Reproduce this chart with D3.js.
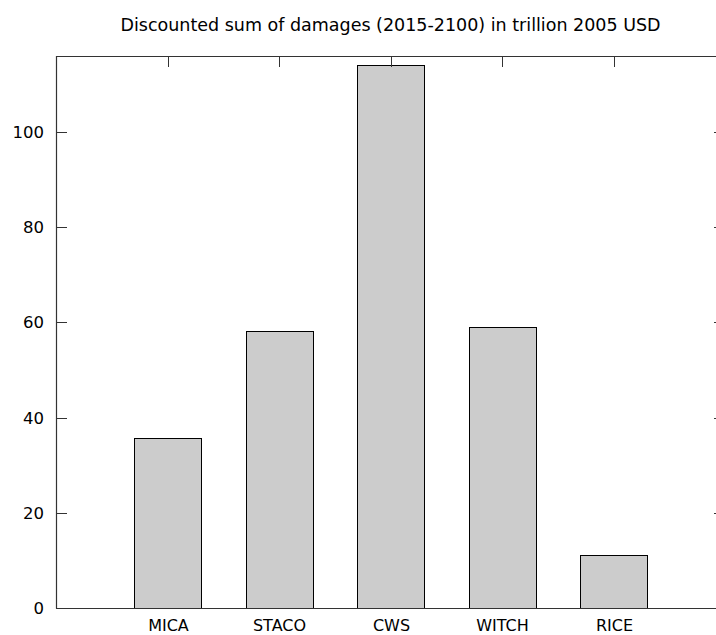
<!DOCTYPE html>
<html><head><meta charset="utf-8">
<script src="https://cdnjs.cloudflare.com/ajax/libs/d3/7.8.5/d3.min.js"></script>
<style>body{margin:0;background:#fff}svg{display:block}</style>
</head><body>
<script>
const categories = ["MICA","STACO","CWS","WITCH","RICE"];
const values = [35.7, 58.2, 114.1, 59.0, 11.1];
const yTicks = [0,20,40,60,80,100];
const title = "Discounted sum of damages (2015-2100) in trillion 2005 USD";

const W = 716, H = 635;
const L = 56, R = 725, T = 56, B = 608;
const svg = d3.select("body").append("svg").attr("width", W).attr("height", H)
  .style("font-family","'DejaVu Sans', sans-serif");

const x = d3.scaleLinear().domain([-1, categories.length]).range([L, R]);
const y = d3.scaleLinear().domain([0, 116]).range([B, T]);
const bw = x(0.6) - x(0);

svg.append("g").selectAll("rect").data(values).join("rect")
  .attr("x", (d,i) => Math.round(x(i) - bw/2) + 0.5)
  .attr("y", d => Math.round(y(d)) + 0.5)
  .attr("width", Math.round(bw))
  .attr("height", d => Math.round(B - y(d)))
  .attr("fill", "#cccccc").attr("stroke", "#000").attr("stroke-width", 1);

// border
svg.append("path").attr("d", `M${L+0.5},${B+0.5}V${T+0.5}H${R}M${L},${B+0.5}H${R}`)
  .attr("fill","none").attr("stroke","#333").attr("stroke-width",1.2);

// y ticks left and right
const gy = svg.append("g");
yTicks.forEach(t => {
  const yy = Math.round(y(t)) + 0.5;
  gy.append("line").attr("x1", L).attr("x2", L+11).attr("y1", yy).attr("y2", yy).attr("stroke","#333");
  gy.append("line").attr("x1", R).attr("x2", R-11).attr("y1", yy).attr("y2", yy).attr("stroke","#333");
  gy.append("text").attr("x", L-12).attr("y", yy).attr("dy","0.36em").attr("text-anchor","end")
    .attr("font-size", 16.5).attr("fill","#000").text(t);
});

// x ticks top, labels bottom
const gx = svg.append("g");
categories.forEach((c,i) => {
  const xx = Math.round(x(i)) + 0.5;
  gx.append("line").attr("x1", xx).attr("x2", xx).attr("y1", T).attr("y2", T+11).attr("stroke","#333");
  gx.append("text").attr("x", xx).attr("y", 631).attr("text-anchor","middle")
    .attr("font-size", 16).attr("fill","#000").text(c);
});

svg.append("text").attr("x", (L+R)/2).attr("y", 31).attr("text-anchor","middle")
  .attr("font-size", 17.5).attr("fill","#000").text(title);
</script>
</body></html>
